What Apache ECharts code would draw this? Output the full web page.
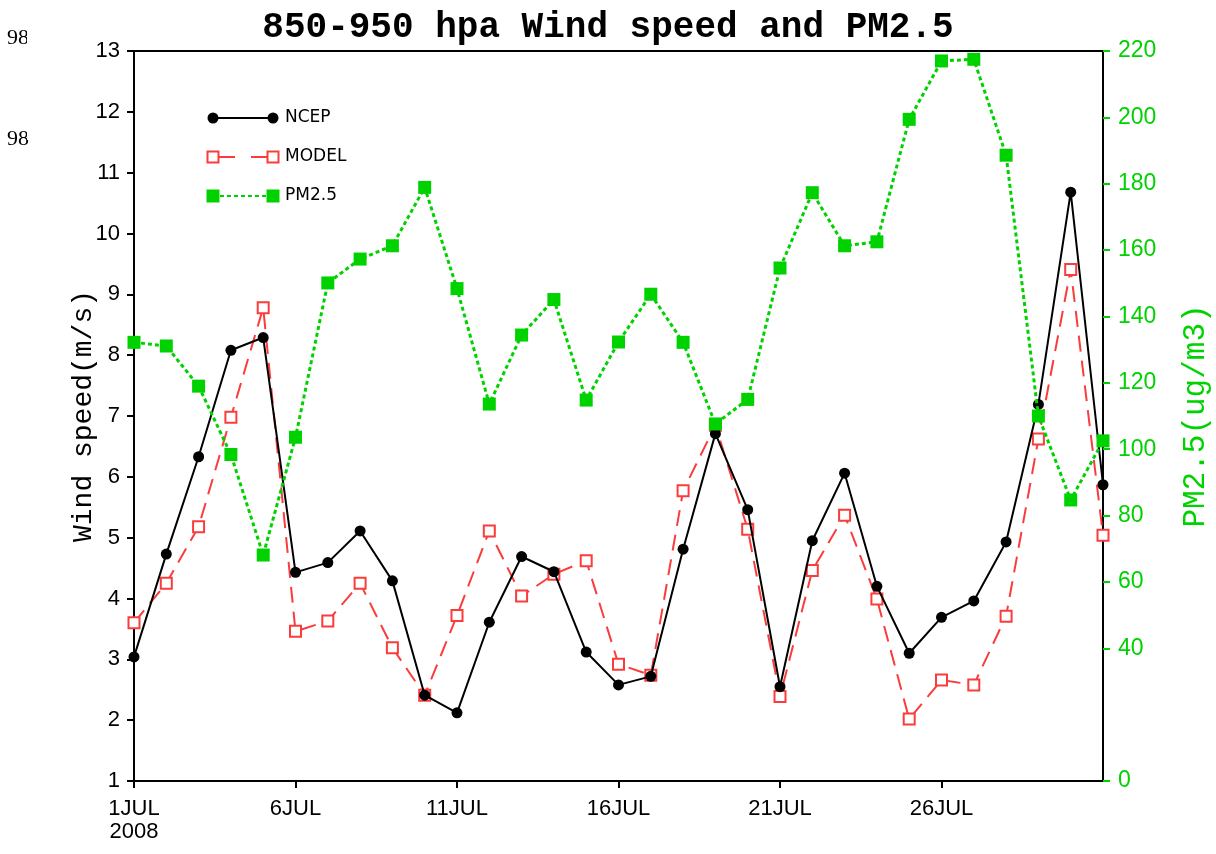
<!DOCTYPE html>
<html>
<head>
<meta charset="utf-8">
<script src="https://cdn.jsdelivr.net/npm/echarts@6/dist/echarts.min.js"></script>
<style>html,body{margin:0;padding:0;background:#fff}#c{width:1216px;height:854px}</style>
</head>
<body>
<div id="c"></div>
<script>
// ---- data ----
const days = [1,2,3,4,5,6,7,8,9,10,11,12,13,14,15,16,17,18,19,20,21,22,23,24,25,26,27,28,29,30,31];
const ncep = [3.04,4.73,6.33,8.08,8.29,4.43,4.59,5.11,4.29,2.41,2.12,3.61,4.69,4.44,3.12,2.58,2.72,4.81,6.71,5.46,2.55,4.95,6.06,4.20,3.10,3.69,3.96,4.93,7.19,10.68,5.87];
const model = [3.6,4.25,5.18,6.98,8.78,3.46,3.63,4.25,3.19,2.41,3.72,5.11,4.04,4.40,4.62,2.92,2.74,5.77,6.85,5.14,2.39,4.46,5.37,3.99,2.02,2.66,2.58,3.71,6.62,9.41,5.04];
const pm25 = [132.2,131.1,119,98.4,68.1,103.6,150.1,157.3,161.3,178.9,148.4,113.6,134.4,145.1,114.8,132.3,146.7,132.2,107.6,115,154.6,177.3,161.3,162.5,199.4,217,217.5,188.6,110,84.7,102.5];
const xTickDays = [1,6,11,16,21,26];
const xTickLabels = ['1JUL\n2008','6JUL','11JUL','16JUL','21JUL','26JUL'];
const rightTicks = [0,40,60,80,100,120,140,160,180,200,220];
const seriesNames = ['NCEP','MODEL','PM2.5'];

const GREEN = '#00d200';
const RED = '#fa3c3c';

const chart = echarts.init(document.getElementById('c'));
const pair = (arr) => days.map((d, i) => [d, arr[i]]);

const legendY = [118, 157, 196];
const lx1 = 213, lx2 = 273;
const legendGraphics = [];
// NCEP
legendGraphics.push({type:'line', shape:{x1:lx1,y1:legendY[0],x2:lx2,y2:legendY[0]}, style:{stroke:'#000',lineWidth:2}});
legendGraphics.push({type:'circle', shape:{cx:lx1,cy:legendY[0],r:5.5}, style:{fill:'#000'}});
legendGraphics.push({type:'circle', shape:{cx:lx2,cy:legendY[0],r:5.5}, style:{fill:'#000'}});
// MODEL
legendGraphics.push({type:'line', shape:{x1:lx1,y1:legendY[1],x2:lx2,y2:legendY[1]}, style:{stroke:RED,lineWidth:2,lineDash:[22,16]}});
legendGraphics.push({type:'rect', shape:{x:lx1-5.5,y:legendY[1]-5.5,width:11,height:11}, style:{fill:'#fff',stroke:RED,lineWidth:2}});
legendGraphics.push({type:'rect', shape:{x:lx2-5.5,y:legendY[1]-5.5,width:11,height:11}, style:{fill:'#fff',stroke:RED,lineWidth:2}});
// PM2.5
legendGraphics.push({type:'line', shape:{x1:lx1,y1:legendY[2],x2:lx2,y2:legendY[2]}, style:{stroke:GREEN,lineWidth:2,lineDash:[4,3]}});
legendGraphics.push({type:'rect', shape:{x:lx1-6.5,y:legendY[2]-6.5,width:13,height:13}, style:{fill:GREEN}});
legendGraphics.push({type:'rect', shape:{x:lx2-6.5,y:legendY[2]-6.5,width:13,height:13}, style:{fill:GREEN}});
seriesNames.forEach((n, i) => {
  legendGraphics.push({type:'text', x:285, y:legendY[i], style:{text:n, fill:'#000', font:'17px "DejaVu Sans"', verticalAlign:'middle', align:'left'}});
});
// cropped fragments at the left edge
legendGraphics.push({type:'text', x:7, y:27, style:{text:'98', fill:'#000', font:'22px "Liberation Serif"', verticalAlign:'alphabetic'}});
legendGraphics.push({type:'text', x:7, y:128, style:{text:'98', fill:'#000', font:'22px "Liberation Serif"', verticalAlign:'alphabetic'}});
legendGraphics.push({type:'rect', shape:{x:27,y:5,width:14,height:135}, style:{fill:'#fff'}});

const option = {
  backgroundColor: '#fff',
  animation: false,
  title: {
    text: '850-950 hpa Wind speed and PM2.5',
    left: 'center', top: 5,
    textStyle: {fontFamily:'Liberation Mono', fontWeight:'bold', fontSize:36, color:'#000'}
  },
  grid: {left:134, right:113, top:51, bottom:73, outerBoundsMode:'none', containLabel:false,
    show:true, borderColor:'#000', borderWidth:2, backgroundColor:'transparent'},
  xAxis: {
    type:'value', min:1, max:31,
    axisLine:{lineStyle:{color:'#000', width:2}},
    axisTick:{length:7, lineStyle:{color:'#000', width:2}, customValues:xTickDays},
    axisLabel:{customValues:xTickDays, margin:16, fontFamily:'Liberation Sans', fontSize:22, color:'#000', lineHeight:23,
      formatter:(v) => xTickLabels[xTickDays.indexOf(v)] || ''},
    splitLine:{show:false}
  },
  yAxis: [{
    type:'value', min:1, max:13, interval:1, position:'left',
    name:'Wind speed(m/s)', nameLocation:'middle', nameGap:36, nameMoveOverlap:false,
    nameTextStyle:{fontFamily:'Liberation Mono', fontSize:28, color:'#000'},
    axisLine:{show:true, lineStyle:{color:'#000', width:2}},
    axisTick:{show:true, length:7, lineStyle:{color:'#000', width:2}},
    axisLabel:{margin:14, fontFamily:'Liberation Sans', fontSize:22, color:'#000'},
    splitLine:{show:false}
  },{
    type:'value', min:0, max:220, position:'right',
    name:'PM2.5(ug/m3)', nameLocation:'middle', nameGap:77, nameMoveOverlap:false,
    nameTextStyle:{fontFamily:'Liberation Mono', fontSize:31, color:GREEN},
    axisLine:{show:true, lineStyle:{color:'#000', width:2}},
    axisTick:{show:true, length:7, lineStyle:{color:GREEN, width:2}, customValues:rightTicks},
    axisLabel:{customValues:rightTicks, margin:15, fontFamily:'Liberation Sans', fontSize:23, color:GREEN},
    splitLine:{show:false}
  }],
  series: [{
    name:seriesNames[0], type:'line', yAxisIndex:0, data:pair(ncep),
    symbol:'circle', symbolSize:11,
    lineStyle:{color:'#000', width:2}, itemStyle:{color:'#000'}, z:3
  },{
    name:seriesNames[1], type:'line', yAxisIndex:0, data:pair(model),
    symbol:'rect', symbolSize:11,
    lineStyle:{color:RED, width:2, type:[16,9]}, itemStyle:{color:'#fff', borderColor:RED, borderWidth:2}, z:2
  },{
    name:seriesNames[2], type:'line', yAxisIndex:1, data:pair(pm25),
    symbol:'rect', symbolSize:13,
    lineStyle:{color:GREEN, width:3, type:[4,3]}, itemStyle:{color:GREEN}, z:4
  }],
  graphic: legendGraphics
};
chart.setOption(option);
</script>
</body>
</html>
